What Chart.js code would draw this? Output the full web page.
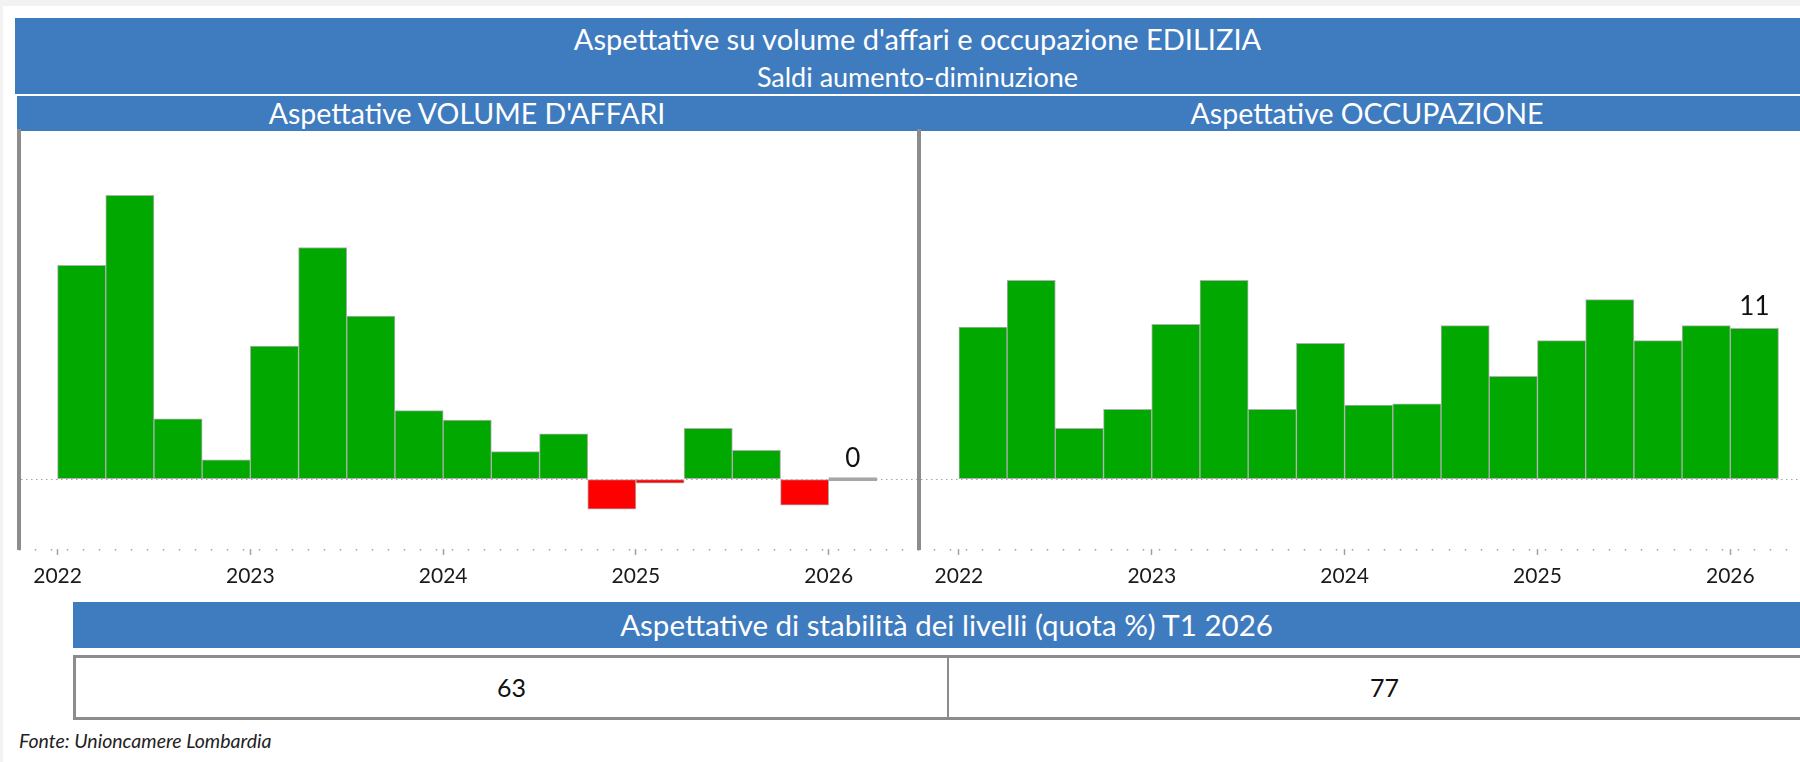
<!DOCTYPE html>
<html lang="it">
<head>
<meta charset="utf-8">
<title>Aspettative su volume d'affari e occupazione EDILIZIA</title>
<script src="https://cdn.jsdelivr.net/npm/chart.js@4.4.1/dist/chart.umd.min.js"></script>
<style>
  html, body { margin: 0; padding: 0; }
  body {
    position: relative; width: 1800px; height: 762px; overflow: hidden;
    background: #f2f2f2; font-family: Lato, "Open Sans", sans-serif;
  }
  .sheet { position: absolute; left: 3px; top: 6px; right: 0; bottom: 0; background: #fff; }
  .band { position: absolute; background: #3f7bbf; color: #fff; }
  .band div { position: absolute; text-align: center; white-space: nowrap; }
  canvas { position: absolute; }
  .cell { position: absolute; top: 0; height: 59px; line-height: 59px; text-align: center; font-size: 25px; color: #111; }
</style>
</head>
<body>
<div class="sheet"></div>

<div class="band" style="left:15px; top:18px; width:1805px; height:76px;">
  <div style="left:0; width:1805px; top:0; height:42px; line-height:42px; font-size:29px;">Aspettative su volume d'affari e occupazione EDILIZIA</div>
  <div style="left:0; width:1805px; top:42px; height:34px; line-height:34px; font-size:27px;">Saldi aumento-diminuzione</div>
</div>

<div class="band" style="left:17px; top:96px; width:1803px; height:35px;">
  <div style="left:0; width:900px; top:0; height:35px; line-height:35px; font-size:28.5px;">Aspettative VOLUME D'AFFARI</div>
  <div style="left:900px; width:900px; top:0; height:35px; line-height:35px; font-size:28.5px;">Aspettative OCCUPAZIONE</div>
</div>

<canvas id="chartVolume" width="930" height="480" style="left:0; top:121px;"></canvas>
<canvas id="chartOccupazione" width="930" height="480" style="left:905px; top:121px;"></canvas>

<div class="band" style="left:73px; top:602px; width:1747px; height:46px;">
  <div style="left:0; width:1747px; top:0; height:46px; line-height:46px; font-size:29.5px;">Aspettative di stabilità dei livelli (quota %) T1 2026</div>
</div>

<div id="stabTable" style="position:absolute; left:73px; top:655px; width:1747px; height:65px; box-sizing:border-box; border:3px solid #8c8c8c; background:#fff;">
  <div id="cellVolume" class="cell" style="left:0; width:871px;"></div>
  <div style="position:absolute; left:871px; top:0; width:2px; height:59px; background:#8c8c8c;"></div>
  <div id="cellOccupazione" class="cell" style="left:873px; width:871px;"></div>
</div>

<div style="position:absolute; left:19px; top:730px; height:22px; line-height:22px; font-size:19.5px; font-style:italic; color:#222;">Fonte: Unioncamere Lombardia</div>

<script>
// trimestri (T1 2022 - T1 2026)
const quarters = ["2022 T1", "2022 T2", "2022 T3", "2022 T4",
                  "2023 T1", "2023 T2", "2023 T3", "2023 T4",
                  "2024 T1", "2024 T2", "2024 T3", "2024 T4",
                  "2025 T1", "2025 T2", "2025 T3", "2025 T4",
                  "2026 T1"];
// saldi aumento-diminuzione
const volumeAffari = [15.6, 20.7, 4.4, 1.4, 9.7, 16.9, 11.9, 5.0, 4.3, 2.0, 3.3, -2.2, -0.3, 3.7, 2.1, -1.9, 0];
const occupazione  = [11.1, 14.5, 3.7, 5.1, 11.3, 14.5, 5.1, 9.9, 5.4, 5.5, 11.2, 7.5, 10.1, 13.1, 10.1, 11.2, 11];
const yearLabels = ["2022", "2023", "2024", "2025", "2026"];
// quota % stabilità T1 2026
const stabilita = [63, 77];

document.getElementById("cellVolume").textContent = stabilita[0];
document.getElementById("cellOccupazione").textContent = stabilita[1];

const GREEN = "#00a800";
const RED = "#ff0000";
const AXIS_GRAY = "#8c8c8c";
const FONT = "Lato, 'Open Sans', sans-serif";

// etichetta sull'ultimo trimestre
const lastValueLabel = {
  id: "lastValueLabel",
  afterDatasetsDraw(chart) {
    const meta = chart.getDatasetMeta(0);
    const last = meta.data.length - 1;
    const bar = meta.data[last];
    const value = chart.data.datasets[0].data[last].y;
    const ctx = chart.ctx;
    ctx.save();
    ctx.font = "26px " + FONT;
    ctx.fillStyle = "#111";
    ctx.textAlign = "center";
    ctx.textBaseline = "middle";
    ctx.fillText(String(Math.round(value)), bar.x, bar.y - 22);
    ctx.restore();
  }
};

function makeChart(canvasId, values, xMin, xMax, padLeft, padRight) {
  // asse x in mesi da gennaio 2022, ogni barra copre un trimestre
  const points = values.map((v, i) => ({ x: 3 * i + 1.5, y: v }));
  return new Chart(document.getElementById(canvasId), {
    type: "bar",
    data: {
      labels: quarters,
      datasets: [{
        xAxisID: "x",
        data: points,
        backgroundColor: ctx => {
          const v = ctx.raw ? ctx.raw.y : 0;
          return v > 0 ? GREEN : (v < 0 ? RED : "#a6a6a6");
        },
        borderColor: ctx => (ctx.raw && ctx.raw.y === 0) ? "#a6a6a6" : "#b0b0b0",
        borderWidth: 1,
        borderSkipped: false,
        minBarLength: 3,
        categoryPercentage: 1,
        barPercentage: 1
      }]
    },
    options: {
      responsive: false,
      animation: false,
      layout: { padding: { left: padLeft, right: padRight, top: 10, bottom: 10 } },
      plugins: { legend: { display: false }, tooltip: { enabled: false } },
      scales: {
        x: {
          type: "linear",
          weight: 1,
          offset: false,
          min: xMin,
          max: xMax,
          afterFit: scale => { scale.height = 42; },
          border: { display: false },
          grid: {
            offset: false,
            drawOnChartArea: false,
            tickLength: 6,
            tickWidth: 1.5,
            tickColor: "#a0a0a0"
          },
          ticks: {
            stepSize: 12,
            includeBounds: false,
            autoSkip: false,
            maxRotation: 0,
            padding: 9,
            color: "#1a1a1a",
            font: { family: FONT, size: 21 },
            callback: v => yearLabels[Math.round(v / 12)]
          }
        },
        // tacche mensili
        xMinor: {
          type: "linear",
          position: "bottom",
          weight: 0,
          offset: false,
          min: xMin,
          max: xMax,
          afterFit: scale => { scale.height = 0; },
          border: { display: false },
          grid: {
            offset: false,
            drawOnChartArea: false,
            tickLength: 1.5,
            tickWidth: 1.5,
            tickColor: "#a0a0a0"
          },
          ticks: { stepSize: 1, includeBounds: false, autoSkip: false, display: false }
        },
        y: {
          min: -5.1,
          max: 25.4,
          afterFit: scale => { scale.width = 0; },
          afterBuildTicks: scale => { scale.ticks = [{ value: 0 }]; },
          border: { display: true, color: AXIS_GRAY, width: 4, dash: [1.5, 3.5] },
          grid: { drawTicks: false, color: "#a6a6a6", lineWidth: 1 },
          ticks: { display: false }
        }
      }
    },
    plugins: [lastValueLabel]
  });
}

makeChart("chartVolume", volumeAffari, -2.4, 53.6, 19, 11.3);
makeChart("chartOccupazione", occupazione, -2.5, 53.5, 13.7, 16.3);
</script>
</body>
</html>
